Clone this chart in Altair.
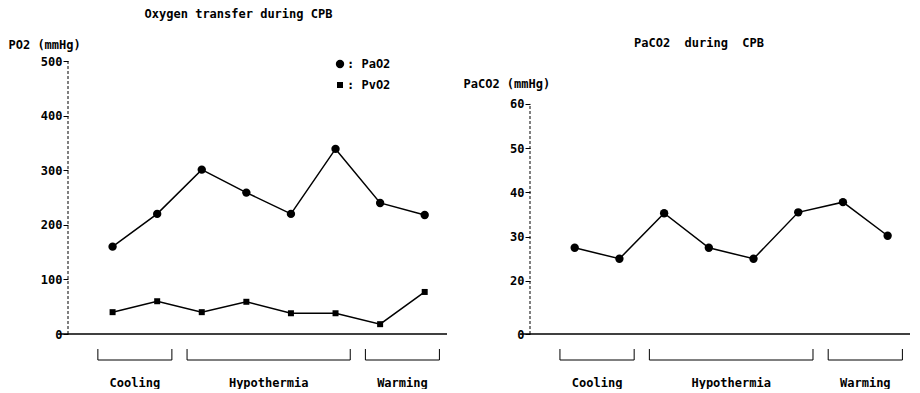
import altair as alt
import pandas as pd

# ---- data ----
samples = [1, 2, 3, 4, 5, 6, 7, 8]
pao2 = [160, 220, 301, 259, 220, 339, 240, 218]
pvo2 = [40, 60, 40, 59, 38, 38, 18, 77]
paco2 = [27.5, 25.0, 35.3, 27.5, 25.0, 35.5, 37.8, 30.2]

phases = ["Cooling", "Hypothermia", "Warming"]
phase_start = [0.67, 2.67, 6.67]
phase_end = [2.33, 6.33, 8.33]

po2_ticks = [0, 100, 200, 300, 400, 500]
paco2_ticks = [20, 30, 40, 50, 60]
paco2_break = 8.0  # broken axis: baseline is labelled "0"

FONT = "DejaVu Sans Mono"
FS = 12
W_L, W_R, H = 379, 380, 273
XDOM = [0, 8.5]
SERIES = ["PaO2", "PvO2"]


def panel(df, ydom, yvals, ytitle, title_x, title_y, axis_top, label_expr, width, legend, title):
    x_enc = alt.X("sample:Q", scale=alt.Scale(domain=XDOM, nice=False, zero=False), axis=None)
    y_axis = alt.Axis(
        values=yvals, title=ytitle, titleAngle=0, titleAlign="left", titleBaseline="middle",
        titleX=title_x, titleY=title_y, titleFont=FONT, titleFontSize=FS, titleFontWeight="bold",
        titleColor="black", domain=False, grid=False, ticks=True, tickSize=5, tickColor="black",
        labelPadding=1, labelFont=FONT, labelFontSize=FS, labelFontWeight="bold", labelColor="black",
        labelExpr=label_expr,
    )
    y_enc = alt.Y("value:Q", scale=alt.Scale(domain=ydom, nice=False, zero=False), axis=y_axis)

    base = alt.Chart(df)
    line = base.mark_line(color="black", strokeWidth=1.5).encode(x=x_enc, y=y_enc, detail="series:N")
    if legend:
        leg = alt.Legend(
            orient="none", legendX=266, legendY=-3, title=None, padding=0, rowPadding=7,
            labelExpr="': ' + datum.label", labelFont=FONT, labelFontSize=FS, labelFontWeight="bold",
            labelColor="black", symbolFillColor="black", symbolStrokeColor="black",
            labelOffset=1,
        )
    else:
        leg = None
    pts = base.mark_point(filled=True, color="black", opacity=1).encode(
        x=x_enc, y=y_enc,
        shape=alt.Shape("series:N", scale=alt.Scale(domain=SERIES, range=["circle", "square"]), legend=leg),
        size=alt.Size("series:N", scale=alt.Scale(domain=SERIES, range=[70, 36]), legend=leg),
    )

    # y-axis line (dashed) and baseline
    ax_df = pd.DataFrame({"sample": [0], "value": [ydom[0]], "value2": [axis_top]})
    yline = alt.Chart(ax_df).mark_rule(color="black", strokeWidth=1, strokeDash=[3, 2]).encode(
        x=x_enc, y=y_enc, y2="value2:Q")
    bl_df = pd.DataFrame({"sample": [-0.22], "sample2": [XDOM[1]], "value": [ydom[0]]})
    bline = alt.Chart(bl_df).mark_rule(color="black", strokeWidth=1.3).encode(
        x=x_enc, x2="sample2:Q", y=y_enc)

    # phase brackets
    ph_df = pd.DataFrame({"phase": phases, "sample": phase_start, "sample2": phase_end})
    ph_df["mid"] = (ph_df["sample"] + ph_df["sample2"]) / 2
    hbr = alt.Chart(ph_df).mark_rule(color="black", strokeWidth=1).encode(
        x=x_enc, x2="sample2:Q", y=alt.value(H + 26))
    ends = pd.DataFrame({"sample": phase_start + phase_end})
    vbr = alt.Chart(ends).mark_rule(color="black", strokeWidth=1).encode(
        x=x_enc, y=alt.value(H + 15), y2=alt.value(H + 26))
    lbl = alt.Chart(ph_df).mark_text(font=FONT, fontSize=FS, fontWeight="bold", color="black",
                                     baseline="middle").encode(
        x=alt.X("mid:Q", scale=alt.Scale(domain=XDOM, nice=False, zero=False), axis=None),
        y=alt.value(H + 49), text="phase:N")

    return alt.layer(yline, bline, hbr, vbr, lbl, line, pts).properties(
        width=width, height=H, title=title)


o2_df = pd.DataFrame({
    "sample": samples + samples,
    "value": pao2 + pvo2,
    "series": ["PaO2"] * len(samples) + ["PvO2"] * len(samples),
})
co2_df = pd.DataFrame({"sample": samples, "value": paco2, "series": ["PaO2"] * len(samples)})

left = panel(
    o2_df, [0, 500], po2_ticks, "PO2 (mmHg)", -60, -17, 500, "datum.label", W_L, True,
    alt.TitleParams("Oxygen transfer during CPB", anchor="middle", frame="group", dx=-19, offset=17,
                    font=FONT, fontSize=FS, fontWeight="bold", color="black"),
)
right = panel(
    co2_df, [paco2_break, 69.7], [paco2_break] + paco2_ticks, "PaCO2 (mmHg)", -67, 22, 60,
    "datum.value < 10 ? '0' : datum.label", W_R, False,
    alt.TitleParams("PaCO2\u00a0\u00a0during\u00a0\u00a0CPB", anchor="middle", frame="group", dx=-21,
                    offset=11, font=FONT, fontSize=FS, fontWeight="bold", color="black"),
)

chart = alt.hconcat(left, right, spacing=83, bounds="flush").resolve_scale(
    shape="independent", size="independent"
).properties(padding=0, background="white").configure_view(stroke=None)

chart.save("out.html", embed_options={"renderer": "svg", "actions": False})
